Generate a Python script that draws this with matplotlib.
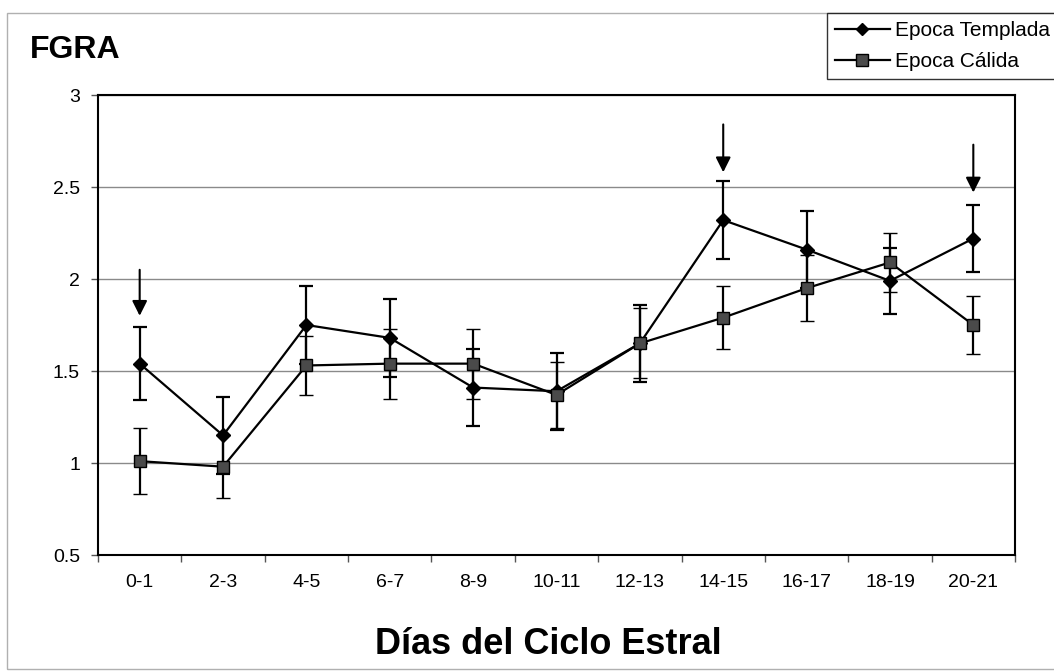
import matplotlib
matplotlib.use("Agg")
import matplotlib.pyplot as plt
from matplotlib.patches import Rectangle
from matplotlib.lines import Line2D
import numpy as np

plt.rcParams["font.family"] = ["Liberation Sans", "DejaVu Sans"]

# data
dias = ["0-1", "2-3", "4-5", "6-7", "8-9", "10-11", "12-13", "14-15", "16-17", "18-19", "20-21"]
templada = [1.54, 1.15, 1.75, 1.68, 1.41, 1.39, 1.65, 2.32, 2.16, 1.99, 2.22]
templada_err = [0.20, 0.21, 0.21, 0.21, 0.21, 0.21, 0.21, 0.21, 0.21, 0.18, 0.18]
calida = [1.01, 0.98, 1.53, 1.54, 1.54, 1.37, 1.65, 1.79, 1.95, 2.09, 1.75]
calida_err = [0.18, 0.17, 0.16, 0.19, 0.19, 0.18, 0.19, 0.17, 0.18, 0.16, 0.16]
# arrows: category index, start value, tip value
arrow_idx = [0, 7, 10]
arrow_from = [2.05, 2.84, 2.73]
arrow_to = [1.80, 2.58, 2.47]

W, H = 1054, 671
fig = plt.figure(figsize=(W / 100, H / 100), dpi=100)
ax = fig.add_axes([98 / W, 1 - 555 / H, (1015 - 98) / W, (555 - 95) / H])

# outer chart frame (Excel chart area)
fig.patches.append(Rectangle((7 / W, 2 / H), 1.2, 1 - 15 / H, transform=fig.transFigure,
                             fill=False, edgecolor="#b0b0b0", lw=1))

x = np.arange(len(dias))
ax.errorbar(x, templada, yerr=templada_err, color="k", lw=1.6, marker="D", ms=7,
            mfc="k", mec="k", capsize=5, capthick=1.6, elinewidth=1.6, zorder=3)
ax.errorbar(x, calida, yerr=calida_err, color="k", lw=1.6, marker="s", ms=9,
            mfc="#4a4a4a", mec="k", mew=1, capsize=5, capthick=1.6, elinewidth=1.6, zorder=4)

for i, a, b in zip(arrow_idx, arrow_from, arrow_to):
    ax.annotate("", xy=(i, b), xytext=(i, a),
                arrowprops=dict(arrowstyle="-|>,head_length=0.9,head_width=0.45",
                                color="k", lw=1.5, shrinkA=0, shrinkB=0))

ax.set_xlim(-0.5, len(dias) - 0.5)
ax.set_ylim(0.5, 3)
ax.set_yticks([0.5, 1, 1.5, 2, 2.5, 3])
ax.set_yticklabels(["0.5", "1", "1.5", "2", "2.5", "3"])
ax.set_xticks(x)
ax.set_xticklabels(dias)
ax.set_xticks(np.arange(-0.5, len(dias)), minor=True)
ax.tick_params(axis="x", which="major", length=0, pad=14, labelsize=14)
ax.tick_params(axis="x", which="minor", length=5, width=1, color="#555")
ax.tick_params(axis="y", length=5, width=1, color="#555", pad=8, labelsize=14)
ax.yaxis.grid(True, color="#8a8a8a", lw=1)
ax.set_axisbelow(True)
for s in ax.spines.values():
    s.set_linewidth(1.5)
    s.set_color("k")

fig.text(30 / W, 1 - 50 / H, "FGRA", fontsize=23, fontweight="bold", va="center", ha="left")
fig.text(548 / W, 1 - 645 / H, "Días del Ciclo Estral", fontsize=26, fontweight="bold",
         va="center", ha="center")

handles = [Line2D([], [], color="k", lw=1.6, marker="D", ms=6, mfc="k", mec="k"),
           Line2D([], [], color="k", lw=1.6, marker="s", ms=8, mfc="#4a4a4a", mec="k")]
leg = fig.legend(handles, ["Epoca Templada", "Epoca Cálida"], loc="upper left",
                 bbox_to_anchor=(827 / W, 1 - 13 / H), borderaxespad=0,
                 fontsize=15, frameon=True, fancybox=False, edgecolor="k",
                 handlelength=2.6, handletextpad=0.25, labelspacing=0.55,
                 borderpad=0.4)
leg.get_frame().set_linewidth(1)

fig.savefig("out.png", dpi=100, facecolor="white")
